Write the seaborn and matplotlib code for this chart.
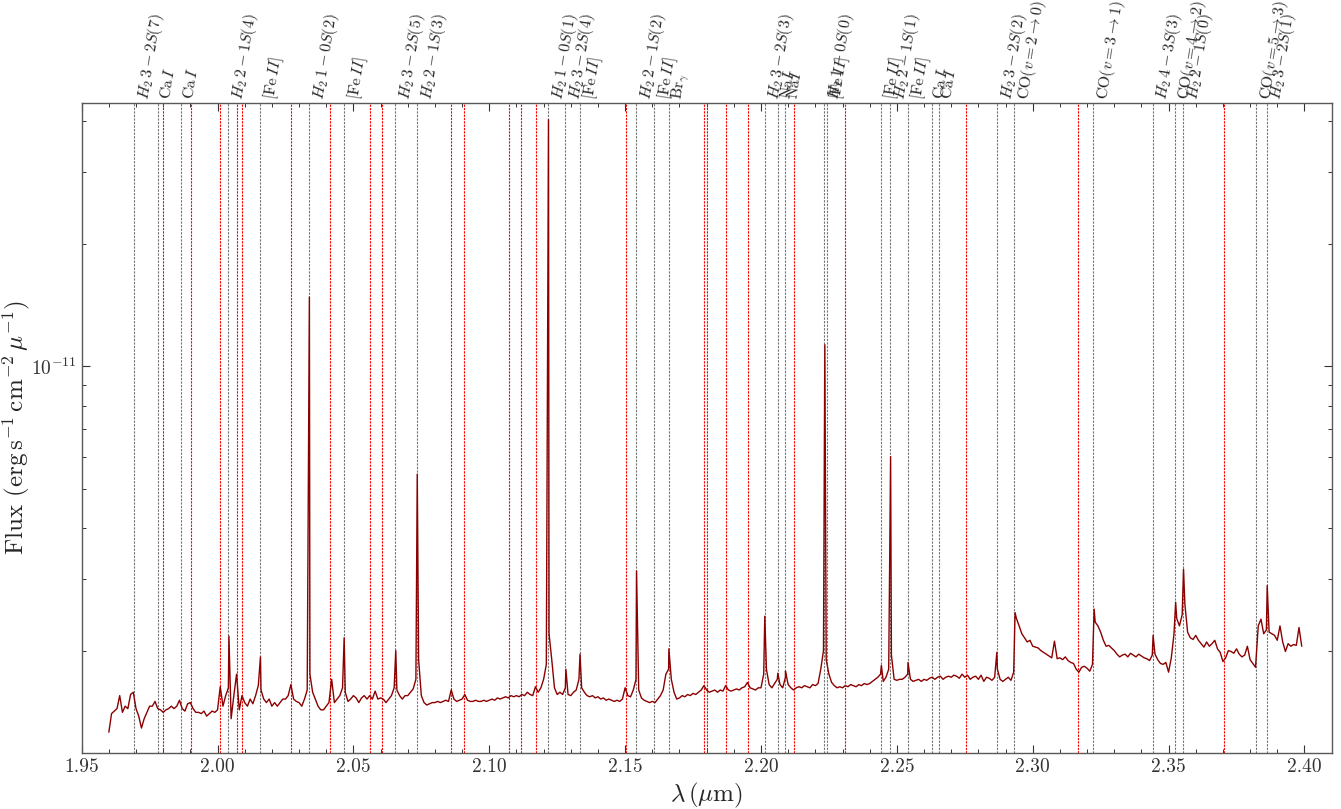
import numpy as np
import pandas as pd
import matplotlib
matplotlib.use("Agg")
import matplotlib.pyplot as plt
import matplotlib.transforms as mtransforms
from matplotlib.ticker import MultipleLocator, LogLocator, NullFormatter
import seaborn as sns

# ---------------- data ----------------
# continuum samples, one row per 0.01 um, step 0.001 um, flux in 1e-12 erg/s/cm2/um
cont_start = 1.960
cont_step = 0.001
cont_flux = [
    1.26, 1.40, 1.42, 1.44, 1.55, 1.41, 1.46, 1.44, 1.56, 1.58,   # 1.960
    1.44, 1.38, 1.29, 1.36, 1.41, 1.46, 1.46, 1.50, 1.44, 1.43,   # 1.970
    1.41, 1.43, 1.44, 1.46, 1.44, 1.46, 1.51, 1.44, 1.42, 1.48,   # 1.980
    1.49, 1.44, 1.41, 1.41, 1.40, 1.42, 1.38, 1.40, 1.42, 1.41,   # 1.990
    1.43, 1.63, 1.46, 1.55, 1.62, 1.36, 1.55, 1.75, 1.43, 1.55,   # 2.000
    1.49, 1.46, 1.52, 1.48, 1.55, 1.64, 1.60, 1.52, 1.49, 1.52,   # 2.010
    1.46, 1.49, 1.46, 1.49, 1.52, 1.52, 1.55, 1.65, 1.52, 1.50,   # 2.020
    1.49, 1.46, 1.52, 1.60, 1.75, 1.58, 1.52, 1.46, 1.43, 1.43,   # 2.030
    1.46, 1.49, 1.70, 1.49, 1.52, 1.55, 1.62, 1.58, 1.50, 1.52,   # 2.040
    1.55, 1.53, 1.49, 1.53, 1.55, 1.52, 1.55, 1.52, 1.59, 1.52,   # 2.050
    1.53, 1.52, 1.49, 1.52, 1.55, 1.62, 1.60, 1.55, 1.52, 1.55,   # 2.060
    1.55, 1.58, 1.61, 1.70, 1.90, 1.55, 1.49, 1.47, 1.48, 1.49,   # 2.070
    1.49, 1.50, 1.49, 1.50, 1.51, 1.50, 1.60, 1.52, 1.50, 1.51,   # 2.080
    1.52, 1.56, 1.51, 1.50, 1.50, 1.51, 1.50, 1.50, 1.51, 1.50,   # 2.090
    1.51, 1.52, 1.51, 1.53, 1.52, 1.53, 1.54, 1.53, 1.55, 1.54,   # 2.100
    1.55, 1.54, 1.56, 1.55, 1.58, 1.56, 1.55, 1.63, 1.58, 1.62,   # 2.110
    1.70, 1.85, 2.20, 1.90, 1.62, 1.56, 1.58, 1.56, 1.62, 1.56,   # 2.120
    1.55, 1.58, 1.60, 1.70, 1.62, 1.58, 1.55, 1.54, 1.55, 1.53,   # 2.130
    1.54, 1.52, 1.53, 1.51, 1.52, 1.51, 1.50, 1.51, 1.50, 1.52,   # 2.140
    1.62, 1.55, 1.54, 1.60, 1.70, 1.60, 1.53, 1.51, 1.50, 1.49,   # 2.150
    1.50, 1.49, 1.52, 1.55, 1.60, 1.75, 1.80, 1.70, 1.58, 1.52,   # 2.160
    1.53, 1.55, 1.54, 1.56, 1.55, 1.57, 1.56, 1.58, 1.60, 1.64,   # 2.170
    1.60, 1.58, 1.59, 1.60, 1.58, 1.60, 1.59, 1.64, 1.60, 1.59,   # 2.180
    1.60, 1.61, 1.60, 1.62, 1.63, 1.67, 1.62, 1.61, 1.60, 1.62,   # 2.190
    1.62, 1.75, 1.80, 1.65, 1.62, 1.66, 1.70, 1.65, 1.62, 1.72,   # 2.200
    1.65, 1.62, 1.60, 1.62, 1.63, 1.62, 1.64, 1.63, 1.62, 1.65,   # 2.210
    1.64, 1.66, 1.80, 2.00, 1.90, 1.75, 1.67, 1.64, 1.62, 1.63,   # 2.220
    1.62, 1.64, 1.63, 1.65, 1.64, 1.63, 1.65, 1.64, 1.66, 1.65,   # 2.230
    1.66, 1.68, 1.70, 1.72, 1.75, 1.68, 1.72, 1.80, 1.95, 1.70,   # 2.240
    1.69, 1.70, 1.70, 1.72, 1.75, 1.70, 1.68, 1.69, 1.70, 1.68,   # 2.250
    1.70, 1.69, 1.71, 1.72, 1.70, 1.72, 1.73, 1.70, 1.72, 1.73,   # 2.260
    1.72, 1.74, 1.73, 1.71, 1.75, 1.72, 1.74, 1.70, 1.72, 1.73,   # 2.270
    1.70, 1.74, 1.68, 1.72, 1.71, 1.69, 1.72, 1.80, 1.70, 1.68,   # 2.280
    1.70, 1.72, 1.69, 1.77, 2.40, 2.30, 2.20, 2.15, 2.10, 2.12,   # 2.290
    2.05, 2.04, 2.03, 2.00, 1.98, 1.96, 1.94, 1.92, 2.11, 1.91,   # 2.300
    1.92, 1.90, 1.93, 1.89, 1.87, 1.86, 1.80, 1.77, 1.82, 1.83,   # 2.310
    1.81, 1.78, 1.85, 2.35, 2.30, 2.22, 2.12, 2.05, 2.06, 2.03,   # 2.320
    2.00, 1.96, 1.93, 1.95, 1.96, 1.93, 1.97, 1.95, 1.93, 1.96,   # 2.330
    1.94, 1.92, 1.91, 1.89, 1.95, 1.96, 1.90, 1.86, 1.85, 1.87,   # 2.340
    1.77, 1.92, 2.20, 2.40, 2.30, 2.45, 2.60, 2.22, 2.15, 2.13,   # 2.350
    2.18, 2.12, 2.08, 2.04, 2.10, 2.05, 2.08, 2.12, 2.02, 1.98,   # 2.360
    1.88, 1.92, 2.00, 1.99, 1.97, 2.02, 1.96, 1.93, 1.95, 2.05,   # 2.370
    1.90, 1.86, 1.82, 2.30, 2.39, 2.20, 2.25, 2.22, 2.20, 2.18,   # 2.380
    2.12, 2.30, 2.10, 1.99, 2.08, 2.05, 2.07, 2.06, 2.28, 2.05,   # 2.390
]

# emission-line peak samples (wavelength um, flux 1e-12)
peak_wave = [2.0042, 2.0158, 2.0338, 2.0466, 2.0656, 2.0735, 2.1218, 2.1282,
             2.1334, 2.1542, 2.1661, 2.2014, 2.2062, 2.2090, 2.2235, 2.2443,
             2.2477, 2.2541, 2.2868, 2.2935, 2.3226, 2.3443, 2.3526, 2.3555,
             2.3863]
peak_flux = [2.17, 1.93, 14.8, 2.15, 2.00, 5.43, 40.4, 1.80,
             1.96, 3.14, 2.02, 2.43, 1.76, 1.78, 11.3, 1.84,
             6.00, 1.87, 1.98, 2.48, 2.53, 2.18, 2.63, 3.17,
             2.89]

# identified lines (grey) with labels
line_wave = [1.9692, 1.9780, 1.9866, 2.0040, 2.0157, 2.0338, 2.0466, 2.0654,
             2.0735, 2.1218, 2.1279, 2.1333, 2.1541, 2.1607, 2.1660, 2.2013,
             2.2062, 2.2089, 2.2232, 2.2242, 2.2442, 2.2476, 2.2540, 2.2628,
             2.2654, 2.2869, 2.2932, 2.3223, 2.3441, 2.3522, 2.3554, 2.3823,
             2.3861]
line_label = [r"$H_2\,3-2S(7)$", r"Ca$\,I$", r"Ca$\,I$", r"$H_2\,2-1S(4)$",
              r"[Fe$\,II$]", r"$H_2\,1-0S(2)$", r"[Fe$\,II$]", r"$H_2\,3-2S(5)$",
              r"$H_2\,2-1S(3)$", r"$H_2\,1-0S(1)$", r"$H_2\,3-2S(4)$", r"[Fe$\,II$]",
              r"$H_2\,2-1S(2)$", r"[Fe$\,II$]", r"Br$_\gamma$", r"$H_2\,3-2S(3)$",
              r"Na$I$", r"Na$I$", r"$H_2\,1-0S(0)$", r"[Fe$\,II$]",
              r"[Fe$\,II$]", r"$H_2\,2-1S(1)$", r"[Fe$\,II$]", r"Ca$\,I$",
              r"Ca$\,I$", r"$H_2\,3-2S(2)$", r"CO$(v=2\rightarrow0)$",
              r"CO$(v=3\rightarrow1)$", r"$H_2\,4-3S(3)$", r"CO$(v=4\rightarrow2)$",
              r"$H_2\,2-1S(0)$", r"CO$(v=5\rightarrow3)$", r"$H_2\,3-2S(1)$"]

# unidentified / telluric positions (red)
red_wave = [1.9800, 1.9904, 2.0008, 2.0070, 2.0090, 2.0272, 2.0413, 2.0560,
            2.0605, 2.0860, 2.0906, 2.1071, 2.1118, 2.1173, 2.1504, 2.1789,
            2.1800, 2.1871, 2.1953, 2.2122, 2.2310, 2.2754, 2.3168, 2.3704]

x_ticks = [1.95, 2.00, 2.05, 2.10, 2.15, 2.20, 2.25, 2.30, 2.35, 2.40]
y_ticks = [1e-11]

# ---------------- build spectrum table ----------------
cont_wave = [round(cont_start + cont_step * i, 4) for i in range(len(cont_flux))]
spec = pd.DataFrame({
    "wave": cont_wave + peak_wave,
    "flux": [f * 1e-12 for f in cont_flux] + [f * 1e-12 for f in peak_flux],
}).sort_values("wave").reset_index(drop=True)

# ---------------- style ----------------
sns.set_style("ticks")
plt.rcParams["font.family"] = "serif"
plt.rcParams["font.serif"] = ["cmr10", "DejaVu Serif"]
plt.rcParams["mathtext.fontset"] = "cm"
plt.rcParams["axes.formatter.use_mathtext"] = True
plt.rcParams["axes.unicode_minus"] = False

fig = plt.figure(figsize=(13.41, 8.09), dpi=100)
ax = fig.add_axes([0.0609, 0.0692, 0.9321, 0.8035])

for w in red_wave:
    ax.axvline(w, color="red", ls=(0, (2, 1)), lw=0.8, zorder=1)
for w in line_wave:
    ax.axvline(w, color="0.45", ls=(0, (2, 1.2)), lw=0.8, zorder=1)

sns.lineplot(data=spec, x="wave", y="flux", ax=ax, color="#8b0000", lw=1.0,
             estimator=None, sort=False, zorder=3)

ax.set_yscale("log")
ax.set_xlim(1.95, 2.41)
ax.set_ylim(1.12e-12, 4.44e-11)

ax.xaxis.set_minor_locator(MultipleLocator(0.01))
ax.set_xticks(x_ticks)
ax.set_xticklabels([f"{t:.2f}" for t in x_ticks])
ax.set_yticks(y_ticks)
ax.set_yticklabels([r"$10^{-11}$"])
ax.yaxis.set_minor_locator(LogLocator(base=10, subs=np.arange(2, 10)))
ax.yaxis.set_minor_formatter(NullFormatter())

ax.tick_params(which="both", direction="in", top=True, right=True,
               labelsize=14, colors="0.2")
ax.tick_params(which="major", length=6, width=0.8)
ax.tick_params(which="minor", length=3, width=0.7)
for s in ax.spines.values():
    s.set_color("0.35")
    s.set_linewidth(1.0)

ax.set_xlabel(r"$\lambda\,(\mu\rm m)$", fontsize=18, color="0.15")
ax.set_ylabel(r"Flux $(\rm erg\,s^{-1}\,cm^{-2}\,\mathit{\mu}^{-1})$", fontsize=18,
              color="0.15")
ax.yaxis.set_label_coords(-0.040, 0.5)

trans = mtransforms.blended_transform_factory(ax.transData, ax.transAxes)
for w, lab in zip(line_wave, line_label):
    ax.text(w, 1.008, lab, transform=trans, rotation=81, rotation_mode="anchor",
            ha="left", va="top", fontsize=11.5, color="0.15", clip_on=False)

fig.savefig("out.png", dpi=100)
